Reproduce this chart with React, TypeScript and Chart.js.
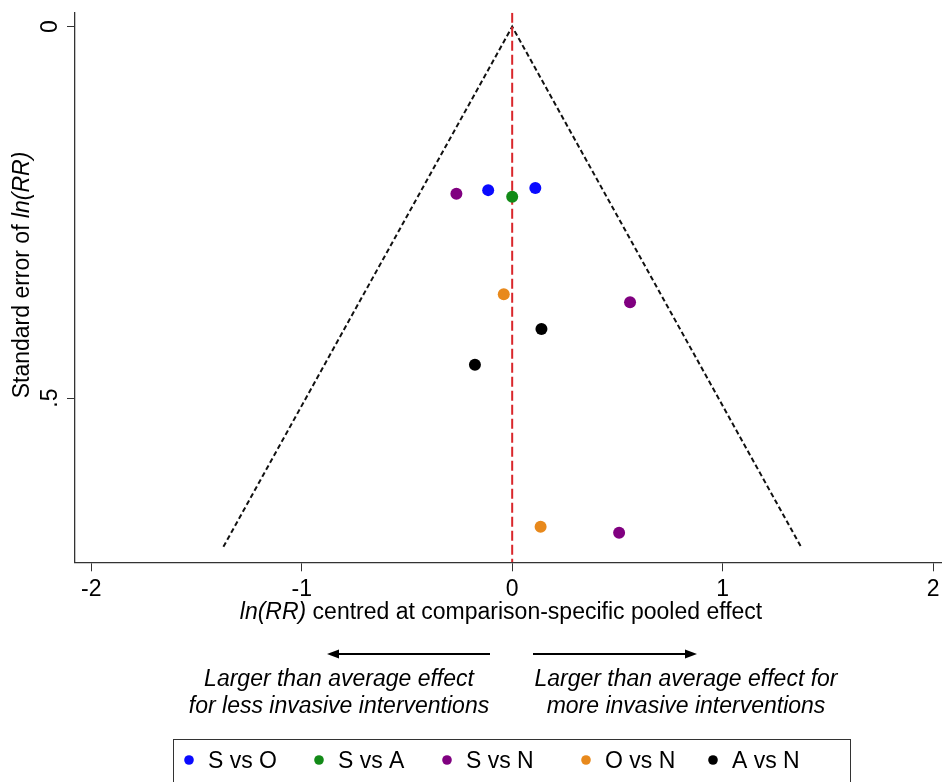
import { useEffect, useRef } from 'react';
import { Chart, registerables } from 'chart.js';

Chart.register(...registerables);

// ---- data ----
const seriesNames = ['S vs O', 'S vs A', 'S vs N', 'O vs N', 'A vs N'];
const seriesColors = ['#0a0aff', '#128a17', '#800080', '#e8891c', '#000000'];

const svoEffect = [-0.114, 0.11];
const svoSE = [0.22, 0.217];
const svaEffect = [0.0];
const svaSE = [0.229];
const svnEffect = [-0.265, 0.56, 0.508];
const svnSE = [0.225, 0.371, 0.681];
const ovnEffect = [-0.04, 0.135];
const ovnSE = [0.36, 0.673];
const avnEffect = [0.139, -0.177];
const avnSE = [0.407, 0.455];

const seriesEffects = [svoEffect, svaEffect, svnEffect, ovnEffect, avnEffect];
const seriesSEs = [svoSE, svaSE, svnSE, ovnSE, avnSE];

// pseudo 95% confidence funnel
const funnelEffect = [-1.372, 0, 1.372];
const funnelSE = [0.7, 0, 0.7];

const xTicks = [-2, -1, 0, 1, 2];
const yTicks = [0, 0.5];
const yTickLabels = ['0', '.5'];

const xMin = -2.077;
const xMax = 2.042;
const yMin = -0.0188;
const yMax = 0.7209;

const refEffect = [0, 0];
const refSE = [yMin, yMax];

const FONT = '"Liberation Sans", Arial, Helvetica, sans-serif';
const FS = 23;

type Seg = { text: string; italic?: boolean };

function drawSegs(ctx: CanvasRenderingContext2D, segs: Seg[], cx: number, cy: number) {
  const widths = segs.map((s) => {
    ctx.font = `${s.italic ? 'italic ' : ''}${FS}px ${FONT}`;
    return ctx.measureText(s.text).width;
  });
  const total = widths.reduce((a, b) => a + b, 0);
  let x = cx - total / 2;
  ctx.textAlign = 'left';
  ctx.textBaseline = 'middle';
  segs.forEach((s, i) => {
    ctx.font = `${s.italic ? 'italic ' : ''}${FS}px ${FONT}`;
    ctx.fillText(s.text, x, cy);
    x += widths[i];
  });
}

function arrow(ctx: CanvasRenderingContext2D, x0: number, x1: number, y: number) {
  const dir = Math.sign(x1 - x0);
  ctx.beginPath();
  ctx.moveTo(x0, y);
  ctx.lineTo(x1 - dir * 8, y);
  ctx.lineWidth = 2;
  ctx.strokeStyle = '#000';
  ctx.stroke();
  ctx.beginPath();
  ctx.moveTo(x1, y);
  ctx.lineTo(x1 - dir * 12, y - 4.5);
  ctx.lineTo(x1 - dir * 12, y + 4.5);
  ctx.closePath();
  ctx.fillStyle = '#000';
  ctx.fill();
}

const annotPlugin = {
  id: 'annot',
  afterDraw(chart: any) {
    const ctx: CanvasRenderingContext2D = chart.ctx;
    const ys = chart.scales.y;
    ctx.save();
    ctx.fillStyle = '#000';

    // rotated y tick labels
    ctx.font = `${FS}px ${FONT}`;
    yTicks.forEach((v, i) => {
      const py = ys.getPixelForValue(v);
      ctx.save();
      ctx.translate(51, py);
      ctx.rotate(-Math.PI / 2);
      ctx.textAlign = 'center';
      ctx.textBaseline = 'middle';
      ctx.fillText(yTickLabels[i], 0, 0);
      ctx.restore();
    });

    // y title
    ctx.save();
    ctx.translate(23, 275);
    ctx.rotate(-Math.PI / 2);
    drawSegs(ctx, [{ text: 'Standard error of ' }, { text: 'ln(RR)', italic: true }], 0, 0);
    ctx.restore();

    // x title
    drawSegs(ctx, [{ text: 'ln(RR)', italic: true }, { text: ' centred at comparison-specific pooled effect' }], 501, 613);

    // arrows
    arrow(ctx, 490, 327, 654);
    arrow(ctx, 533, 697, 654);

    // direction notes
    drawSegs(ctx, [{ text: 'Larger than average effect', italic: true }], 339, 680);
    drawSegs(ctx, [{ text: 'for less invasive interventions', italic: true }], 339, 707);
    drawSegs(ctx, [{ text: 'Larger than average effect for', italic: true }], 686, 680);
    drawSegs(ctx, [{ text: 'more invasive interventions', italic: true }], 686, 707);

    // legend box
    ctx.strokeStyle = '#333';
    ctx.lineWidth = 1;
    ctx.strokeRect(173.5, 739.5, 677, 60);
    const dotX = [189, 319, 447, 586, 713];
    seriesNames.forEach((name, i) => {
      ctx.beginPath();
      ctx.arc(dotX[i], 760, 4.8, 0, Math.PI * 2);
      ctx.fillStyle = seriesColors[i];
      ctx.fill();
      ctx.fillStyle = '#000';
      ctx.font = `${FS}px ${FONT}`;
      ctx.textAlign = 'left';
      ctx.textBaseline = 'middle';
      ctx.fillText(name, dotX[i] + 19, 762);
    });
    ctx.restore();
  },
};

export default function App() {
  const ref = useRef<HTMLCanvasElement>(null);
  useEffect(() => {
    const scatterSets = seriesNames.map((name, i) => ({
      type: 'scatter' as const,
      label: name,
      data: seriesEffects[i].map((e, j) => ({ x: e, y: seriesSEs[i][j] })),
      backgroundColor: seriesColors[i],
      borderColor: seriesColors[i],
      pointRadius: 6,
      pointBorderWidth: 0,
      showLine: false,
    }));
    const chart = new Chart(ref.current as HTMLCanvasElement, {
      type: 'scatter',
      data: {
        datasets: [
          ...scatterSets,
          {
            type: 'line' as const,
            label: 'ref',
            data: refEffect.map((e, j) => ({ x: e, y: refSE[j] })),
            borderColor: '#d9262b',
            borderWidth: 2,
            borderDash: [10, 4],
            pointRadius: 0,
            showLine: true,
            fill: false,
          },
          {
            type: 'line' as const,
            label: 'funnel',
            data: funnelEffect.map((e, j) => ({ x: e, y: funnelSE[j] })),
            borderColor: '#111',
            borderWidth: 2,
            borderDash: [5, 3],
            pointRadius: 0,
            showLine: true,
            fill: false,
          },
        ] as any,
      },
      options: {
        responsive: false,
        animation: false,
        layout: { autoPadding: false, padding: { top: 12.7, right: 0, bottom: 0, left: 0 } },
        plugins: { legend: { display: false }, tooltip: { enabled: false } },
        scales: {
          x: {
            type: 'linear',
            min: xMin,
            max: xMax,
            afterBuildTicks: (s: any) => {
              s.ticks = xTicks.map((v) => ({ value: v }));
            },
            afterFit: (s: any) => {
              s.height = 782 - 562.3;
              s.paddingLeft = 0;
              s.paddingRight = 0;
            },
            ticks: {
              color: '#000',
              font: { family: FONT, size: FS },
              padding: 5,
              maxRotation: 0,
              callback: (v: any) => String(v),
            },
            grid: { drawOnChartArea: false, drawTicks: true, tickLength: 9, color: '#333' },
            border: { display: true, color: '#333', width: 1.3 },
          },
          y: {
            type: 'linear',
            reverse: true,
            min: yMin,
            max: yMax,
            afterBuildTicks: (s: any) => {
              s.ticks = yTicks.map((v) => ({ value: v }));
            },
            afterFit: (s: any) => {
              s.width = 75;
              s.paddingTop = 0;
              s.paddingBottom = 0;
            },
            ticks: { display: false },
            grid: { drawOnChartArea: false, drawTicks: true, tickLength: 8, color: '#333' },
            border: { display: true, color: '#333', width: 1.3 },
          },
        },
      } as any,
      plugins: [annotPlugin],
    });
    return () => chart.destroy();
  }, []);
  return (
    <div style={{ position: 'absolute', left: 0, top: 0, width: 942, height: 782, background: '#fff' }}>
      <canvas ref={ref} width={942} height={782} style={{ display: 'block' }} />
    </div>
  );
}
